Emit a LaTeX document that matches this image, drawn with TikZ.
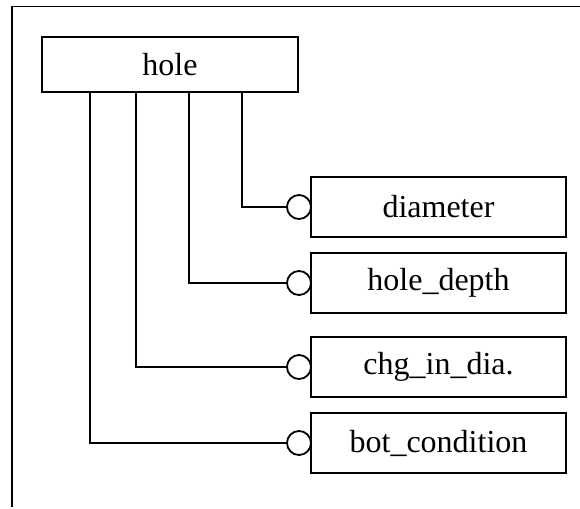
\documentclass[tikz,border=0pt]{standalone}
\usepackage{fontspec}
\setmainfont{Liberation Serif}
\begin{document}
\begin{tikzpicture}[x=1pt,y=-1pt,
  every path/.style={line width=1.8pt},
  entity/.style={draw, rectangle, inner sep=0pt, minimum width=256pt, minimum height=55pt, font=\fontsize{32}{36}\selectfont},
  attr/.style={draw, rectangle, inner sep=0pt, minimum width=255pt, minimum height=60pt, font=\fontsize{32}{36}\selectfont},
  port/.style={draw, circle, fill=white, inner sep=0pt, minimum size=24pt},
  link/.style={draw, line width=1.8pt}]
\useasboundingbox (0,0) rectangle (580,508);
% page frame: top and left edges only
\draw (12,507) -- (12,6.5) -- (580,6.5);
% entity
\node[entity] (hole) at (170,64.5) {hole};
% attributes
\node[attr] (diameter) at (438.5,207) {diameter};
\node[attr] (depth)    at (438.5,283) {hole\_depth};
\node[attr] (chg)      at (438.5,367) {chg\_in\_dia.};
\node[attr] (bot)      at (438.5,443) {bot\_condition};
% connector ends
\node[port] (c1) at (299,207) {};
\node[port] (c2) at (299,283) {};
\node[port] (c3) at (299,367) {};
\node[port] (c4) at (299,443) {};
% connectors
\draw[link] ([xshift=72pt]hole.south)  |- (c1);
\draw[link] ([xshift=19pt]hole.south)  |- (c2);
\draw[link] ([xshift=-34pt]hole.south) |- (c3);
\draw[link] ([xshift=-80pt]hole.south) |- (c4);
\end{tikzpicture}
\end{document}
